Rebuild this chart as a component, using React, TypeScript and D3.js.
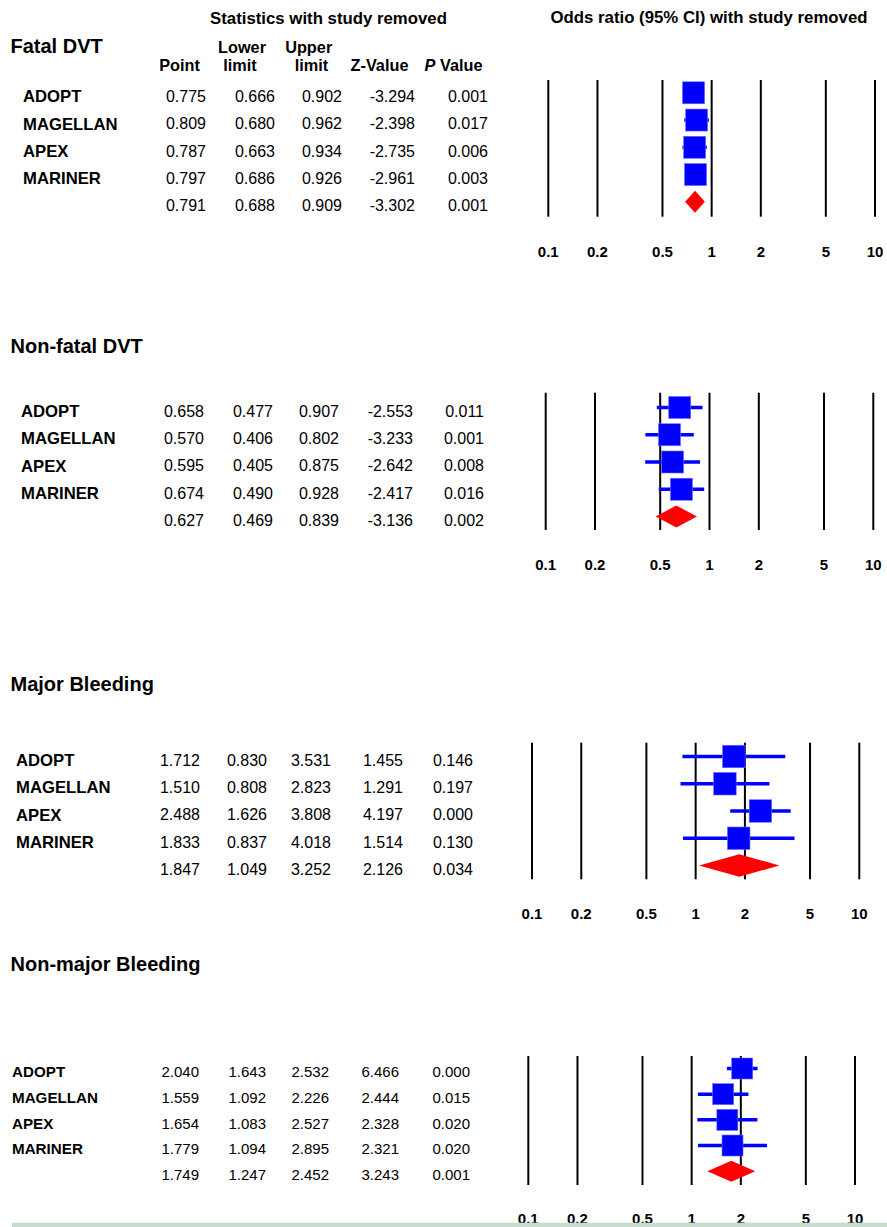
import React from 'react';
import * as d3 from 'd3';

// each row: point, lower, upper, z-value, p-value; last row = pooled (no study)
const STUDIES = ['ADOPT', 'MAGELLAN', 'APEX', 'MARINER'];
const TICKS = [0.1, 0.2, 0.5, 1, 2, 5, 10];

const fatalDvt = [
  [0.775, 0.666, 0.902, -3.294, 0.001],
  [0.809, 0.68, 0.962, -2.398, 0.017],
  [0.787, 0.663, 0.934, -2.735, 0.006],
  [0.797, 0.686, 0.926, -2.961, 0.003],
  [0.791, 0.688, 0.909, -3.302, 0.001],
];
const nonFatalDvt = [
  [0.658, 0.477, 0.907, -2.553, 0.011],
  [0.57, 0.406, 0.802, -3.233, 0.001],
  [0.595, 0.405, 0.875, -2.642, 0.008],
  [0.674, 0.49, 0.928, -2.417, 0.016],
  [0.627, 0.469, 0.839, -3.136, 0.002],
];
const majorBleeding = [
  [1.712, 0.83, 3.531, 1.455, 0.146],
  [1.51, 0.808, 2.823, 1.291, 0.197],
  [2.488, 1.626, 3.808, 4.197, 0.0],
  [1.833, 0.837, 4.018, 1.514, 0.13],
  [1.847, 1.049, 3.252, 2.126, 0.034],
];
const nonMajorBleeding = [
  [2.04, 1.643, 2.532, 6.466, 0.0],
  [1.559, 1.092, 2.226, 2.444, 0.015],
  [1.654, 1.083, 2.527, 2.328, 0.02],
  [1.779, 1.094, 2.895, 2.321, 0.02],
  [1.749, 1.247, 2.452, 3.243, 0.001],
];

const panels = [
  { title: 'Fatal DVT', rows: fatalDvt },
  { title: 'Non-fatal DVT', rows: nonFatalDvt },
  { title: 'Major Bleeding', rows: majorBleeding },
  { title: 'Non-major Bleeding', rows: nonMajorBleeding },
];

// page layout per panel (pixels)
const layout = [
  { titleY: 53.3, nameX: 23, cols: [206, 275, 342, 415, 488], row0: 96.3, row1: 205.3, x0: 548.3, x1: 875, top: 80, bottom: 216.7, tickY: 251.7, fs: 16, nfs: 16.7, box: 22 },
  { titleY: 352.7, nameX: 21, cols: [204, 273, 339, 413, 484], row0: 411, row1: 520, x0: 545.7, x1: 873.3, top: 392.7, bottom: 530, tickY: 565, fs: 16, nfs: 16.7, box: 22 },
  { titleY: 690.7, nameX: 16, cols: [200, 267, 331, 403, 473], row0: 760, row1: 869, x0: 532, x1: 859.3, top: 742.7, bottom: 879.3, tickY: 914, fs: 16, nfs: 16.7, box: 22.5 },
  { titleY: 970.7, nameX: 12, cols: [199, 266, 329, 399, 470], row0: 1072, row1: 1174.7, x0: 528.3, x1: 855, top: 1056, bottom: 1185, tickY: 1218.3, fs: 15, nfs: 15.2, box: 21 },
];

const FONT = 'Liberation Sans, Arial, Helvetica, sans-serif';
const fmt = (v: number) => v.toFixed(3);

function Panel({ title, rows, L }: { title: string; rows: number[][]; L: any }) {
  const x = d3.scaleLog().domain([0.1, 10]).range([L.x0, L.x1]);
  const y = d3.scalePoint<number>().domain(d3.range(rows.length)).range([L.row0, L.row1]);
  const off = -3.5;
  const h = L.box;
  return (
    <g>
      <text x={10.5} y={L.titleY} fontSize={20} fontWeight="bold">{title}</text>
      {rows.map((r, i) => (
        <g key={i} fontSize={L.fs}>
          {i < STUDIES.length ? (
            <text x={L.nameX} y={y(i)} dy="0.36em" fontWeight="bold" fontSize={L.nfs}>{STUDIES[i]}</text>
          ) : null}
          {r.map((v, j) => (
            <text key={j} x={L.cols[j]} y={y(i)} dy="0.36em" textAnchor="end">{fmt(v)}</text>
          ))}
        </g>
      ))}
      {TICKS.map((t) => (
        <line key={t} x1={x(t)} x2={x(t)} y1={L.top} y2={L.bottom} stroke="#000" strokeWidth={2} />
      ))}
      {rows.map((r, i) => {
        const cy = (y(i) as number) + off;
        if (i === rows.length - 1) {
          const pts = [
            [x(r[1]), cy],
            [x(r[0]), cy - h / 2],
            [x(r[2]), cy],
            [x(r[0]), cy + h / 2],
          ];
          return <path key={i} d={d3.line()(pts as [number, number][]) + 'Z'} fill="#ff0000" />;
        }
        return (
          <g key={i}>
            <line x1={x(r[1])} x2={x(r[2])} y1={cy} y2={cy} stroke="#0000ff" strokeWidth={3.5} />
            <rect x={x(r[0]) - h / 2} y={cy - h / 2} width={h} height={h} fill="#0000ff" stroke="#6b6bff" strokeWidth={0.6} />
          </g>
        );
      })}
      {TICKS.map((t) => (
        <text key={t} x={x(t)} y={L.tickY} dy="0.36em" textAnchor="middle" fontSize={15} fontWeight="bold">
          {d3.format('~g')(t)}
        </text>
      ))}
    </g>
  );
}

export default function App() {
  return (
    <svg
      width={887}
      height={1227}
      style={{ position: 'absolute', left: 0, top: 0, background: '#fff' }}
      fontFamily={FONT}
      fill="#000"
    >
      <text x={328.5} y={18.3} dy="0.36em" textAnchor="middle" fontSize={16.8} fontWeight="bold">
        Statistics with study removed
      </text>
      <text x={709} y={16.7} dy="0.36em" textAnchor="middle" fontSize={16.8} fontWeight="bold">
        Odds ratio (95% CI) with study removed
      </text>
      <g fontSize={16.3} fontWeight="bold" textAnchor="middle">
        <text x={179.5} y={65.5} dy="0.36em">Point</text>
        <text x={242} y={47.3} dy="0.36em">Lower</text>
        <text x={240} y={65.5} dy="0.36em">limit</text>
        <text x={308.7} y={47.3} dy="0.36em">Upper</text>
        <text x={311.5} y={65.5} dy="0.36em">limit</text>
        <text x={379.5} y={65.5} dy="0.36em">Z-Value</text>
        <text x={453.5} y={65.5} dy="0.36em">
          <tspan fontStyle="italic">P</tspan> Value
        </text>
      </g>
      {panels.map((p, i) => (
        <Panel key={p.title} title={p.title} rows={p.rows} L={layout[i]} />
      ))}
      <rect x={12} y={1222.7} width={875} height={4.3} fill="#c4ddcf" />
    </svg>
  );
}
